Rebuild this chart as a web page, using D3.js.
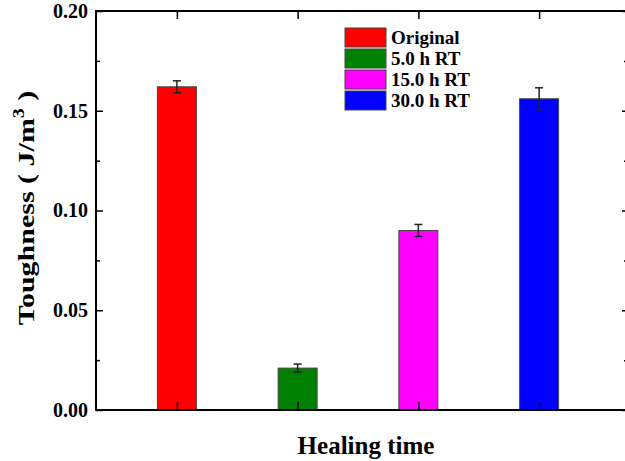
<!DOCTYPE html>
<html>
<head>
<meta charset="UTF-8" />
<style>
  body { margin: 0; background: #fff; }
  text { font-family: "Liberation Serif", "Times New Roman", serif; font-weight: bold; fill: #000; }
  .frame { fill: none; stroke: #000; stroke-width: 2px; }
  .bar { stroke: #444; stroke-width: 1px; }
  .err { stroke: #222; stroke-width: 1.5px; fill: none; }
</style>
<script src="https://d3js.org/d3.v7.min.js"></script>
</head>
<body>
<svg width="625" height="461"></svg>
<script>
// data
var categories = ["Original", "5.0 h RT", "15.0 h RT", "30.0 h RT"];
var toughness = [0.162, 0.021, 0.090, 0.156];
var errors = [0.003, 0.002, 0.003, 0.0055];
var colors = ["#ff0000", "#008000", "#ff00ff", "#0000ff"];
var majorTicks = [0, 0.05, 0.10, 0.15, 0.20];
var minorTicks = [0.025, 0.075, 0.125, 0.175];

var svg = d3.select("svg");
var mLeft = 96, mTop = 11, mBottom = 410, mRight = 631;

var y = d3.scaleLinear().domain([0, 0.2]).range([mBottom, mTop]);
var x = d3.scalePoint().domain(categories).range([mLeft, 620]).padding(0.67);
var barW = 39;

var data = categories.map(function (c, i) {
  return { name: c, value: toughness[i], err: errors[i], color: colors[i] };
});

// bars
svg.append("g")
  .selectAll("rect")
  .data(data)
  .enter()
  .append("rect")
  .attr("class", "bar")
  .attr("x", d => x(d.name) - barW / 2)
  .attr("y", d => y(d.value))
  .attr("width", barW)
  .attr("height", d => y(0) - y(d.value))
  .style("fill", d => d.color);

// error bars
var eg = svg.append("g").selectAll("g").data(data).enter().append("g").attr("class", "err");
eg.append("line")
  .attr("x1", d => x(d.name)).attr("x2", d => x(d.name))
  .attr("y1", d => y(d.value + d.err)).attr("y2", d => y(d.value - d.err));
eg.append("line")
  .attr("x1", d => x(d.name) - 4).attr("x2", d => x(d.name) + 4)
  .attr("y1", d => y(d.value + d.err)).attr("y2", d => y(d.value + d.err));
eg.append("line")
  .attr("x1", d => x(d.name) - 4).attr("x2", d => x(d.name) + 4)
  .attr("y1", d => y(d.value - d.err)).attr("y2", d => y(d.value - d.err));

// axes
function strip(g) {
  g.select(".domain").remove();
  g.selectAll(".tick line").attr("stroke", "#000").attr("stroke-width", 1.5);
}

var yAxis = svg.append("g")
  .attr("transform", "translate(" + mLeft + ",0)")
  .call(d3.axisLeft(y).tickValues(majorTicks).tickFormat(d3.format(".2f"))
    .tickSizeInner(-7).tickSizeOuter(0).tickPadding(8));
strip(yAxis);
yAxis.selectAll("text").style("font-size", "20px").style("font-family", "Liberation Serif, serif");

svg.append("g")
  .attr("transform", "translate(" + mLeft + ",0)")
  .call(d3.axisLeft(y).tickValues(minorTicks).tickFormat("").tickSizeInner(-4).tickSizeOuter(0))
  .call(strip);

svg.append("g")
  .attr("transform", "translate(" + mRight + ",0)")
  .call(d3.axisRight(y).tickValues(majorTicks).tickFormat("").tickSizeInner(-9).tickSizeOuter(0))
  .call(strip);
svg.append("g")
  .attr("transform", "translate(" + mRight + ",0)")
  .call(d3.axisRight(y).tickValues(minorTicks).tickFormat("").tickSizeInner(-7).tickSizeOuter(0))
  .call(strip);

svg.append("g")
  .attr("transform", "translate(0," + mBottom + ")")
  .call(d3.axisBottom(x).tickFormat("").tickSizeInner(-8).tickSizeOuter(0))
  .call(strip);
svg.append("g")
  .attr("transform", "translate(0," + mTop + ")")
  .call(d3.axisTop(x).tickFormat("").tickSizeInner(-8).tickSizeOuter(0))
  .call(strip);

svg.append("rect")
  .attr("class", "frame")
  .attr("x", mLeft).attr("y", mTop)
  .attr("width", mRight - mLeft).attr("height", mBottom - mTop);

// axis titles
svg.append("text")
  .attr("x", 366).attr("y", 454)
  .attr("text-anchor", "middle")
  .style("font-size", "25px")
  .text("Healing time");

var yl = svg.append("text")
  .attr("transform", "translate(34,208) rotate(-90) scale(1.25,1)")
  .attr("text-anchor", "middle")
  .style("font-size", "24px");
yl.append("tspan").text("Toughness ( J/m");
yl.append("tspan").attr("dy", -10).style("font-size", "16px").text("3");
yl.append("tspan").attr("dy", 10).text(" )");

// legend
var legend = svg.append("g")
  .selectAll("g")
  .data(data)
  .enter()
  .append("g")
  .attr("transform", (d, i) => "translate(345," + (28 + i * 21) + ")");
legend.append("rect")
  .attr("width", 41).attr("height", 19)
  .attr("stroke", "#444").attr("stroke-width", 1)
  .style("fill", d => d.color);
legend.append("text")
  .attr("x", 46).attr("y", 16)
  .style("font-size", "19px")
  .text(d => d.name);
</script>
</body>
</html>
